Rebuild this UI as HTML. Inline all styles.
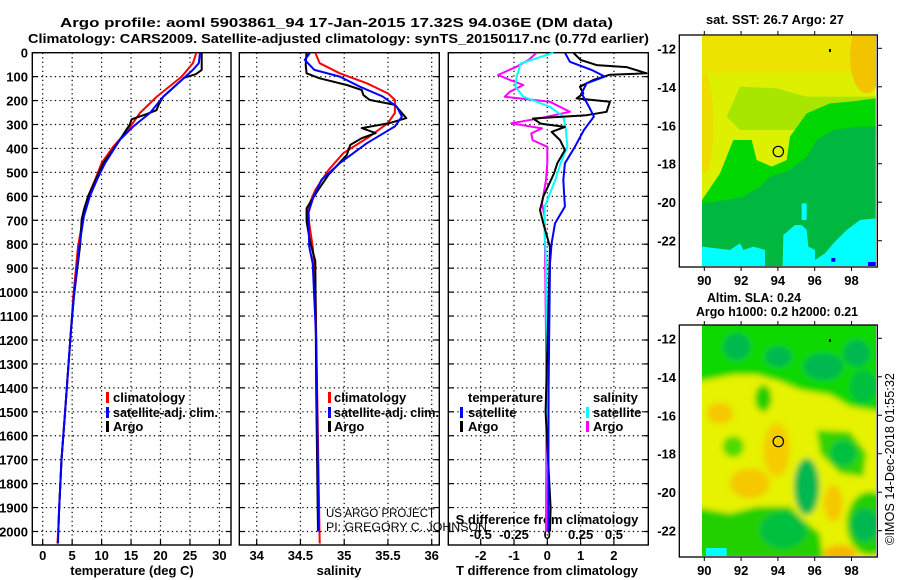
<!DOCTYPE html>
<html><head><meta charset="utf-8"><style>
html,body{margin:0;padding:0;background:#fff;}
svg{display:block;font-family:"Liberation Sans",Arial,sans-serif;}
.b{font-weight:bold;font-size:13px;}
</style></head><body>
<svg id="fig" width="900" height="580" viewBox="0 0 900 580" xmlns="http://www.w3.org/2000/svg">
<defs>
<clipPath id="c1"><rect x="702" y="36" width="174" height="231"/></clipPath>
<clipPath id="c2"><rect x="702" y="325" width="174" height="231"/></clipPath>
<filter id="bl" x="-10%" y="-10%" width="120%" height="120%"><feGaussianBlur stdDeviation="9"/></filter>
</defs>
<text class="b" x="60" y="27" font-size="14" textLength="553" lengthAdjust="spacingAndGlyphs">Argo profile: aoml 5903861_94 17-Jan-2015 17.32S 94.036E (DM data)</text>
<text class="b" x="28" y="43" font-size="14" textLength="621" lengthAdjust="spacingAndGlyphs">Climatology: CARS2009. Satellite-adjusted climatology: synTS_20150117.nc (0.77d earlier)</text>

<!-- SST map -->
<g>
<rect x="679.3" y="35" width="198" height="232" fill="#fff"/>
<g clip-path="url(#c1)">
<g transform="translate(690,30) scale(0.33333)">
<rect x="36" y="18" width="521" height="690" fill="#dcf000"/>
<rect x="36" y="18" width="521" height="110" fill="#ece400"/>
<ellipse cx="530" cy="80" rx="50" ry="110" fill="#f2c400"/>
<ellipse cx="45" cy="280" rx="25" ry="150" fill="#ecdc00"/>
<polygon fill="#a8e600" points="150,170 260,175 350,200 450,200 557,200 557,300 150,300 110,260"/>
<polygon fill="#00d600" points="36,510 90,430 130,330 185,330 200,390 245,410 290,390 300,320 350,250 420,220 480,215 557,205 557,708 36,708"/>
<polygon fill="#00b840" points="36,520 110,510 160,500 210,470 240,440 300,420 350,380 380,330 430,300 500,290 557,290 557,708 36,708"/>
<polygon fill="#00ffff" points="36,650 120,660 150,640 160,660 190,650 225,660 225,708 36,708"/>
<polygon fill="#00ffff" points="278,708 280,615 315,585 335,585 350,600 355,650 375,660 375,690 405,670 430,640 470,600 510,570 557,565 557,708"/>
<rect x="335" y="520" width="15" height="50" fill="#00ffff"/>
<rect x="424" y="684" width="12" height="11" fill="#0000ff"/>
<rect x="534" y="696" width="23" height="12" fill="#0000ff"/>
</g>
</g>
<rect x="679.3" y="35" width="198" height="232" fill="none" stroke="#000" stroke-width="1.3"/>
<circle cx="778.3" cy="151.5" r="5.2" fill="none" stroke="#000" stroke-width="1.2"/>
<rect x="829" y="49" width="2" height="3" fill="#000"/>
</g>

<!-- SLA map -->
<g>
<rect x="679.3" y="325" width="198" height="232" fill="#fff"/>
<g clip-path="url(#c2)">
<g transform="translate(690,320) scale(0.33333)">
<g filter="url(#bl)">
<rect x="0" y="0" width="600" height="720" fill="#e6f200"/>
<polygon fill="#10d800" points="0,0 600,0 600,280 480,260 420,225 330,210 270,185 200,165 130,165 0,190"/>
<ellipse cx="140" cy="80" rx="40" ry="40" fill="#00b850"/>
<ellipse cx="265" cy="110" rx="40" ry="30" fill="#00b850"/>
<ellipse cx="400" cy="140" rx="60" ry="40" fill="#00b850"/>
<ellipse cx="500" cy="100" rx="40" ry="40" fill="#00b850"/>
<ellipse cx="520" cy="200" rx="40" ry="50" fill="#00c040"/>
<ellipse cx="220" cy="235" rx="25" ry="40" fill="#20d000"/>
<ellipse cx="90" cy="280" rx="40" ry="32" fill="#f5c800"/>
<ellipse cx="180" cy="490" rx="60" ry="45" fill="#f5c800"/>
<ellipse cx="260" cy="390" rx="40" ry="80" fill="#f5cc00"/>
<ellipse cx="430" cy="550" rx="28" ry="55" fill="#f5c800"/>
<ellipse cx="450" cy="700" rx="50" ry="25" fill="#f5b800"/>
<ellipse cx="130" cy="380" rx="32" ry="32" fill="#50dc00"/>
<polygon fill="#30d400" points="380,330 480,335 530,400 520,470 450,460 390,400"/>
<ellipse cx="460" cy="400" rx="40" ry="40" fill="#00c040"/>
<ellipse cx="350" cy="500" rx="38" ry="85" fill="#00b850"/>
<polygon fill="#20d000" points="0,560 120,580 200,560 300,560 340,600 390,640 400,720 0,720"/>
<ellipse cx="280" cy="630" rx="70" ry="55" fill="#00c040"/>
<ellipse cx="540" cy="610" rx="70" ry="95" fill="#20d000"/>
<ellipse cx="525" cy="615" rx="40" ry="50" fill="#00b850"/>
</g>
<rect x="48" y="684" width="62" height="30" fill="#00ffff"/>
</g>
</g>
<rect x="679.3" y="325" width="198" height="232" fill="none" stroke="#000" stroke-width="1.3"/>
<circle cx="778.3" cy="441.5" r="5.2" fill="none" stroke="#000" stroke-width="1.2"/>
<rect x="829" y="339" width="2" height="3" fill="#000"/>
</g>

<text class="b" x="775" y="24" text-anchor="middle" textLength="138" lengthAdjust="spacingAndGlyphs">sat. SST: 26.7 Argo: 27</text>
<text class="b" x="754" y="302" text-anchor="middle" textLength="94" lengthAdjust="spacingAndGlyphs">Altim. SLA: 0.24</text>
<text class="b" x="777" y="316" text-anchor="middle" textLength="162" lengthAdjust="spacingAndGlyphs">Argo h1000: 0.2 h2000: 0.21</text>
<text font-size="13" x="0" y="0" text-anchor="middle" transform="translate(894,459) rotate(-90)" textLength="172" lengthAdjust="spacingAndGlyphs">©IMOS 14-Dec-2018 01:55:32</text>

<g id="axes"></g>
<g id="series"></g>

<g class="b">
<rect x="106" y="392" width="3" height="11" fill="#f00"/><text x="113" y="402">climatology</text>
<rect x="106" y="407" width="3" height="11" fill="#00f"/><text x="113" y="417" textLength="105" lengthAdjust="spacingAndGlyphs">satellite-adj. clim.</text>
<rect x="106" y="421" width="3" height="11" fill="#000"/><text x="113" y="431">Argo</text>
</g>
<g class="b">
<rect x="328" y="392" width="3" height="11" fill="#f00"/><text x="334" y="402">climatology</text>
<rect x="328" y="407" width="3" height="11" fill="#00f"/><text x="334" y="417" textLength="105" lengthAdjust="spacingAndGlyphs">satellite-adj. clim.</text>
<rect x="328" y="421" width="3" height="11" fill="#000"/><text x="334" y="431">Argo</text>
</g>
<g class="b">
<text x="468" y="402">temperature</text>
<rect x="460" y="407" width="3" height="11" fill="#00f"/><text x="468" y="417">satellite</text>
<rect x="460" y="421" width="3" height="11" fill="#000"/><text x="468" y="431">Argo</text>
<text x="593" y="402">salinity</text>
<rect x="586" y="407" width="3" height="11" fill="#0ff"/><text x="593" y="417">satellite</text>
<rect x="586" y="421" width="3" height="11" fill="#f0f"/><text x="593" y="431">Argo</text>
</g>
<text font-size="12" x="326" y="517" textLength="109" lengthAdjust="spacingAndGlyphs">US ARGO PROJECT</text>
<text font-size="12" x="326" y="531" textLength="161" lengthAdjust="spacingAndGlyphs">PI: GREGORY C. JOHNSON</text>
</svg>
<script>
// ---- data ----
var tClimDepth=[0,44,100,183,252,322,392,461,531,600,684,810,1019,1158,1400,1500,1700,1900,2000,2050];
var tClimVal=[26.1,25.5,23.6,19.4,16.5,14.5,12.0,10.0,8.9,7.7,6.9,6.0,5.2,4.8,4.1,3.8,3.2,2.8,2.65,2.5];
var tSatDepth=[0,44,72,114,183,252,308,364,461,531,600,684,810,1019,1158,1400,1500,1700,1900,2000,2050];
var tSatVal=[26.7,26.5,25.5,23.6,20.5,18.2,15.4,13.1,10.6,9.2,8.0,7.0,6.2,5.3,4.8,4.1,3.8,3.2,2.8,2.65,2.6];
var tArgoDepth=[0,72,90,105,150,183,211,240,257,278,300,322,364,461,600,656,698,795,1019,1158,1400,1500,1700,1900,2000];
var tArgoVal=[27.0,27.0,26.0,24.0,22.0,20.5,19.8,19.3,17.6,15.1,14.8,14.2,13.1,10.3,7.7,7.0,6.6,6.4,5.3,4.8,4.1,3.8,3.2,2.8,2.65];
var sClimDepth=[0,44,86,128,170,197,252,294,350,420,490,573,643,713,810,950,1400,2050];
var sClimVal=[34.67,34.72,34.95,35.26,35.5,35.58,35.58,35.5,35.29,34.99,34.82,34.67,34.59,34.6,34.64,34.67,34.69,34.72];
var sSatDepth=[0,30,72,100,142,183,225,267,308,378,461,531,600,670,810,880,1200,2000];
var sSatVal=[34.61,34.55,34.66,34.95,35.18,35.44,35.6,35.66,35.58,35.26,34.95,34.74,34.65,34.59,34.6,34.64,34.68,34.71];
var sArgoDepth=[0,50,86,107,135,156,177,197,218,273,294,315,336,357,385,427,510,580,650,705,790,870,1400,2000];
var sArgoVal=[34.57,34.56,34.57,34.72,35.03,35.2,35.22,35.29,35.58,35.71,35.52,35.2,35.36,35.2,35.07,35.03,34.82,34.69,34.57,34.57,34.61,34.67,34.68,34.7];
var dtSatDepth=[0,38,72,100,128,170,225,267,323,393,462,532,643,713,796,880,1400,2000];
var dtSatVal=[0.53,0.68,1.33,1.73,1.18,1.03,1.25,1.4,1.1,0.83,0.53,0.48,0.53,0.23,0.13,0.08,0.04,0.03];
var dtArgoDepth=[0,30,52,60,86,92,114,142,170,191,205,247,261,275,296,310,331,365,407,462,504,601,657,713,811,1500,1900,2000];
var dtArgoVal=[0.78,1.0,1.48,2.38,2.98,1.88,1.38,0.98,1.08,0.88,1.88,1.78,1.18,-0.43,-0.2,0.53,0.13,0.38,0.53,0.3,0.2,-0.12,-0.22,-0.12,0.08,-0.05,0.1,0.08];
var dsSatDepth=[0,45,100,142,184,226,267,323,393,462,532,643,740,880,1400,2000];
var dsSatVal=[0.045,-0.2,-0.23,-0.24,-0.18,0.02,0.12,0.14,0.15,0.1,0.06,-0.02,-0.02,-0.01,0.0,0.005];
var dsArgoDepth=[0,30,58,93,114,135,163,184,205,247,274,295,316,337,365,393,462,532,629,685,1400,2000];
var dsArgoVal=[-0.08,-0.14,-0.23,-0.37,-0.28,-0.18,-0.28,-0.32,0.02,0.17,-0.06,-0.27,-0.04,-0.12,-0.11,0.0,0.0,-0.01,-0.04,-0.02,-0.005,-0.01];
var depthTicks=[0,100,200,300,400,500,600,700,800,900,1000,1100,1200,1300,1400,1500,1600,1700,1800,1900,2000];
var tTicks=[0,5,10,15,20,25,30];
var sTicks=[34,34.5,35,35.5,36];
var sTickLabels=["34","34.5","35","35.5","36"];
var dtTicks=[-2,-1,0,1,2];
var dsTicks=[-0.5,-0.25,0,0.25,0.5];
var latTicks=[-12,-14,-16,-18,-20,-22];
var lonTicks=[90,92,94,96,98];

// ---- scales ----
var NS="http://www.w3.org/2000/svg";
function yD(d){return 52.7+d*0.2394;}
function xT(v){return 42.7+v*5.89;}
function xS(v){return 256.7+(v-34)*87.5;}
function xDT(v){return 547.3+v*33.3;}
function xDS(v){return 547.3+v*133.2;}
function yLat(v){return 48.3+(-12-v)*19.24;}
function xLon(v){return 704.3+(v-90)*18.4;}
var axes=document.getElementById('axes'),series=document.getElementById('series');
function mk(tag,at,parent){var e=document.createElementNS(NS,tag);for(var k in at)e.setAttribute(k,at[k]);(parent||axes).appendChild(e);return e;}
function txt(s,x,y,anchor,parent){var t=mk('text',{x:x,y:y,'text-anchor':anchor,'class':'b'},parent);t.textContent=s;return t;}

var panels=[{x0:32.3,x1:231,f:xT,ticks:tTicks,name:'temperature'},{x0:239.3,x1:439.3,f:xS,ticks:sTicks,name:'salinity'},{x0:448.3,x1:648.3,f:xDT,ticks:dtTicks,name:'difference'}];
var yTop=52.7,yBot=545;
panels.forEach(function(p,i){
  var g=mk('g',{});
  
  
  depthTicks.forEach(function(d){
    if(d>0) mk('line',{x1:p.x0,x2:p.x1,y1:yD(d),y2:yD(d),stroke:'#000','stroke-width':1.2,'stroke-dasharray':'1.3,3.2'},g);
    mk('line',{x1:p.x0,x2:p.x0+5,y1:yD(d),y2:yD(d),stroke:'#000','stroke-width':1.2},g);
    mk('line',{x1:p.x1-5,x2:p.x1,y1:yD(d),y2:yD(d),stroke:'#000','stroke-width':1.2},g);
  });
  p.ticks.forEach(function(v){
    var x=p.f(v);
    mk('line',{x1:x,x2:x,y1:yTop,y2:yBot,stroke:'#000','stroke-width':1.2,'stroke-dasharray':'1.3,3.2'},g);
    mk('line',{x1:x,x2:x,y1:yBot-5,y2:yBot,stroke:'#000','stroke-width':1.2},g);
  });
  var fr=mk('rect',{x:p.x0,y:yTop,width:p.x1-p.x0,height:yBot-yTop,fill:'none',stroke:'#000','stroke-width':1.4},g);
  
  
});
var yl=mk('g',{});


depthTicks.forEach(function(d){txt(String(d),28,yD(d)+5,'end',yl);});
var xl1=mk('g',{});


tTicks.forEach(function(v){txt(String(v),xT(v),560,'middle',xl1);});
var xl2=mk('g',{});


sTicks.forEach(function(v,i){txt(sTickLabels[i],xS(v),560,'middle',xl2);});
var xl3=mk('g',{});


dtTicks.forEach(function(v){txt(String(v),xDT(v),560,'middle',xl3);});
var xl4=mk('g',{});


dsTicks.forEach(function(v){txt(String(v),xDS(v),539,'middle',xl4);});
var at1=txt('temperature (deg C)',132,575,'middle');


var at2=txt('salinity',339,575,'middle');


var at3=txt('T difference from climatology',547,575,'middle');


var at4=txt('S difference from climatology',547,524,'middle');



[{top:35,bot:267,n:'sst'},{top:325,bot:557,n:'sla'}].forEach(function(m){
  var g=mk('g',{});
  
  
  latTicks.forEach(function(v){
    var y=yLat(v)+(m.top-35);
    txt(String(v),676,y+5,'end',g);
    mk('line',{x1:877,x2:882,y1:y,y2:y,stroke:'#000','stroke-width':1},g);
  });
  lonTicks.forEach(function(v){
    var x=xLon(v);
    txt(String(v),x,m.bot+18,'middle',g);
    mk('line',{x1:x,x2:x,y1:m.top-4,y2:m.top,stroke:'#000','stroke-width':1},g);
    mk('line',{x1:x,x2:x,y1:m.bot,y2:m.bot+4,stroke:'#000','stroke-width':1},g);
  });
});

function line(depths,vals,fx,color,name,w){
  var pts=depths.map(function(d,i){return fx(vals[i]).toFixed(1)+','+yD(d).toFixed(1);}).join(' ');
  var p=mk('polyline',{points:pts,fill:'none',stroke:color,'stroke-width':w||2,'stroke-linejoin':'round'},series);
  
  
}
line(tClimDepth,tClimVal,xT,'#f00','temperature-climatology-line');
line(tArgoDepth,tArgoVal,xT,'#000','temperature-argo-line');
line(tSatDepth,tSatVal,xT,'#00f','temperature-satellite-line');
line(sClimDepth,sClimVal,xS,'#f00','salinity-climatology-line');
line(sArgoDepth,sArgoVal,xS,'#000','salinity-argo-line');
line(sSatDepth,sSatVal,xS,'#00f','salinity-satellite-line');
line(dsArgoDepth,dsArgoVal,xDS,'#f0f','s-difference-argo-line');
line(dsSatDepth,dsSatVal,xDS,'#0ff','s-difference-satellite-line');
line(dtArgoDepth,dtArgoVal,xDT,'#000','t-difference-argo-line');
line(dtSatDepth,dtSatVal,xDT,'#00f','t-difference-satellite-line');
</script>
</body></html>
